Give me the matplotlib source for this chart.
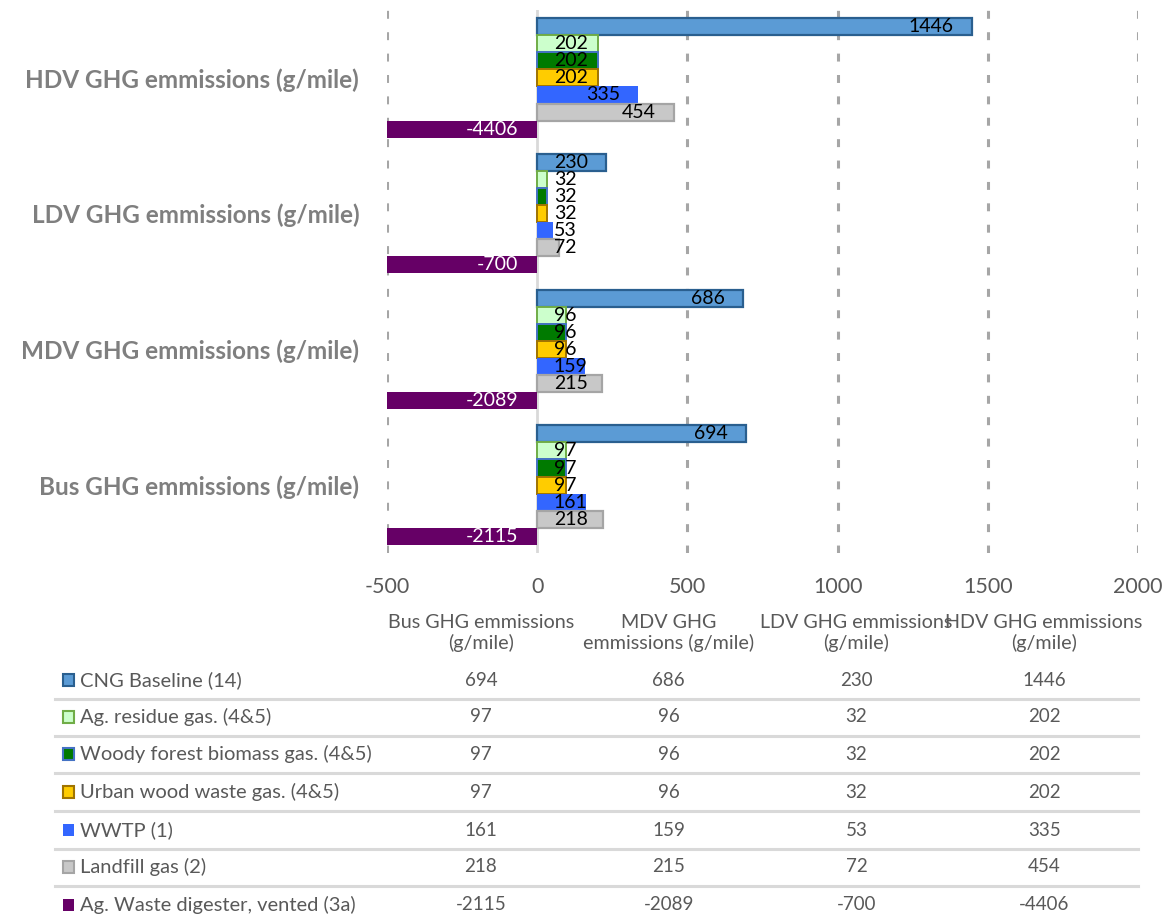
import numpy as np
import matplotlib
matplotlib.use("Agg")
import matplotlib.pyplot as plt
import matplotlib.patches as patches
from matplotlib.transforms import blended_transform_factory

plt.rcParams['font.family'] = ['Lato', 'DejaVu Sans']
plt.rcParams['axes.unicode_minus'] = False

# categories bottom -> top on the plot, same order as the data table columns
categories = ['Bus GHG emmissions (g/mile)', 'MDV GHG emmissions (g/mile)',
              'LDV GHG emmissions (g/mile)', 'HDV GHG emmissions (g/mile)']
table_headers = ['Bus GHG emmissions\n(g/mile)', 'MDV GHG\nemmissions (g/mile)',
                 'LDV GHG emmissions\n(g/mile)', 'HDV GHG emmissions\n(g/mile)']

series_names = ['CNG Baseline (14)', 'Ag. residue gas. (4&5)', 'Woody forest biomass gas. (4&5)',
                'Urban wood waste gas. (4&5)', 'WWTP (1)', 'Landfill gas (2)',
                'Ag. Waste digester, vented (3a)']
cng = [694, 686, 230, 1446]
ag_residue = [97, 96, 32, 202]
woody = [97, 96, 32, 202]
urban_wood = [97, 96, 32, 202]
wwtp = [161, 159, 53, 335]
landfill = [218, 215, 72, 454]
ag_waste = [-2115, -2089, -700, -4406]
series = [cng, ag_residue, woody, urban_wood, wwtp, landfill, ag_waste]

faces = ['#5B9BD5', '#CCFFCC', '#007A00', '#FFCC00', '#3366FF', '#C8C8C8', '#660066']
edges = ['#2A5F8F', '#70AD47', '#4472C4', '#A07400', '#3366FF', '#A5A5A5', '#660066']
lws = [1.6, 1.4, 1.4, 1.4, 0, 1.6, 0]

W, H = 1172, 918
fig = plt.figure(figsize=(W / 100, H / 100), dpi=100)
ax = fig.add_axes([387 / W, 1 - 553 / H, (1138 - 387) / W, (553 - 10) / H])

h = 0.126
y = np.arange(len(categories))
bars_all = []
for j, vals in enumerate(series):
    pos = y + (3 - j) * h
    ax.barh(pos, vals, height=h, color=faces[j], edgecolor=edges[j],
            linewidth=lws[j], zorder=3)
    bars_all.append((vals, pos))

ax.set_xlim(-500, 2000)
ax.set_ylim(-0.5, 3.5)
ax.set_xticks([-500, 0, 500, 1000, 1500, 2000])
ax.set_yticks(y)
ax.set_yticklabels(categories, fontsize=17.5, fontweight='bold', color='#7F7F7F')
ax.tick_params(axis='y', length=0, pad=20)
ax.tick_params(axis='x', length=0, pad=17, labelsize=15.5, labelcolor='#595959')
for s in ax.spines.values():
    s.set_visible(False)
for xv in [-500, 500, 1000, 1500, 2000]:
    ax.axvline(xv, color='#A6A6A6', lw=2.2, ls=(0, (2.6, 4.4)), zorder=1)
ax.axvline(0, color='#D9D9D9', lw=2, zorder=2)

# data labels, Excel style "inside end", pushed right when the bar is too short
fig.canvas.draw()
renderer = fig.canvas.get_renderer()
x0_px = ax.transData.transform((0, 0))[0]
for vals, pos in bars_all:
    for v, p in zip(vals, pos):
        if v < 0:
            ax.annotate(str(v), xy=(0, p), xytext=(-13.5, 0), textcoords='offset points',
                        ha='right', va='center', fontsize=14, color='white', zorder=5)
            continue
        t = ax.annotate(str(v), xy=(v, p), xytext=(-13, 0), textcoords='offset points',
                        ha='right', va='center', fontsize=14, color='black', zorder=5)
        bb = t.get_window_extent(renderer)
        if bb.x0 < x0_px + 16:
            t.xy = (0, p)
            t.set_position((12, 0))
            t.set_ha('left')

# data table under the chart
tr = blended_transform_factory(ax.transAxes, fig.transFigure)
ncol = len(categories)
for i, hd in enumerate(table_headers):
    fig.text((i + 0.5) / ncol, 1 - 633 / H, hd, transform=tr, ha='center', va='center',
             fontsize=14.2, color='#595959', linespacing=1.2)

row_y = [680, 717, 754, 792, 830, 867, 905]
for j, name in enumerate(series_names):
    yf = 1 - row_y[j] / H
    fig.patches.append(patches.Rectangle((63 / W, yf - 6 / H), 11 / W, 12 / H,
                                         transform=fig.transFigure, facecolor=faces[j],
                                         edgecolor=edges[j], lw=1.5 if lws[j] else 0))
    fig.text(80 / W, yf, name, ha='left', va='center', fontsize=14.5, color='#595959')
    for i in range(ncol):
        fig.text((i + 0.5) / ncol, yf, str(series[j][i]), transform=tr, ha='center',
                 va='center', fontsize=13.5, color='#595959')
    if j < len(series_names) - 1:
        yl = 1 - (row_y[j] + row_y[j + 1]) / 2 / H
        fig.add_artist(plt.Line2D([55 / W, 1138 / W], [yl, yl], color='#D9D9D9', lw=2.2))

fig.savefig('out.png', dpi=100)
